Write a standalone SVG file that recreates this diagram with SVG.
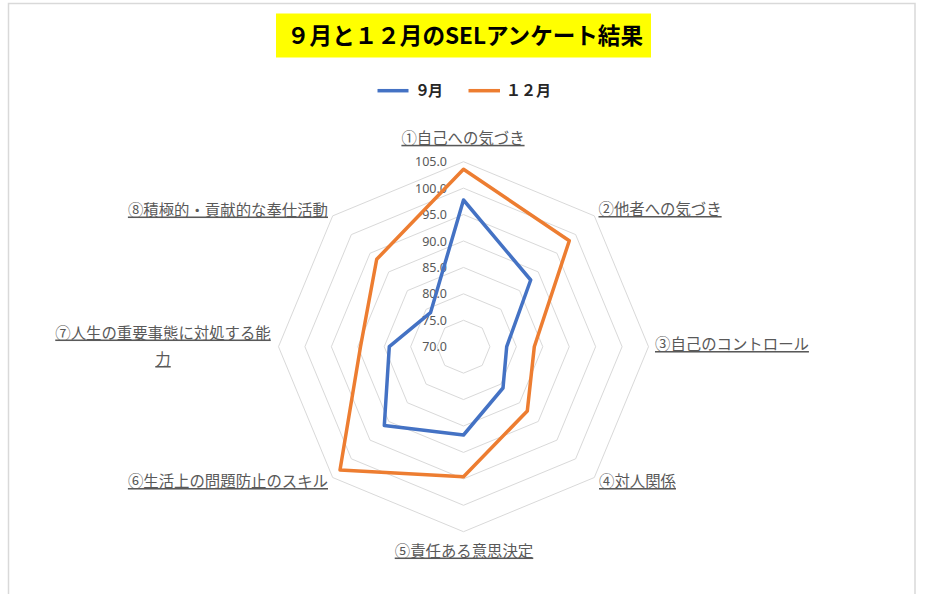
<svg xmlns="http://www.w3.org/2000/svg" width="925" height="594" viewBox="0 0 925 594">
<style>
.grid{fill:none;stroke:#D9D9D9;stroke-width:1}
.tick{font-family:"Noto Sans","Liberation Sans",sans-serif;font-size:12.5px;fill:#595959;text-anchor:end}
.cat{font-family:"Noto Sans CJK JP","Noto Sans",sans-serif;font-size:15.4px;fill:#595959;text-decoration:underline}
.ser{fill:none;stroke-width:3.5;stroke-linejoin:round;stroke-linecap:round}
.leg{font-family:"Noto Sans CJK JP","Noto Sans",sans-serif;font-size:15px;font-weight:bold;fill:#262626}
</style>
<rect x="0" y="0" width="925" height="594" fill="#FFFFFF"/>
<rect x="8.5" y="3.5" width="906.5" height="620" fill="#FFFFFF" stroke="#D9D9D9" stroke-width="1.5"/>
<g id="title">
<rect x="276" y="13.5" width="375" height="44" fill="#FFFF00"/>
<text x="465" y="43.5" text-anchor="middle" font-family="Noto Sans CJK JP,Noto Sans,sans-serif" font-size="23" font-weight="bold" fill="#000000" textLength="356" lengthAdjust="spacingAndGlyphs">９月と１２月のSELアンケート結果</text>
</g>
<g id="legend">
<line x1="377.5" y1="90.7" x2="408.5" y2="90.7" stroke="#4472C4" stroke-width="3.5"/>
<text class="leg" x="415" y="96" textLength="28">９月</text>
<line x1="468.5" y1="90.7" x2="500" y2="90.7" stroke="#ED7D31" stroke-width="3.5"/>
<text class="leg" x="506" y="96" textLength="45">１２月</text>
</g>
<g id="gridrings">
<polygon class="grid" points="463.5,320.27 482.19,328.01 489.93,346.7 482.19,365.39 463.5,373.13 444.81,365.39 437.07,346.7 444.81,328.01"/>
<polygon class="grid" points="463.5,293.84 500.88,309.32 516.36,346.7 500.88,384.08 463.5,399.56 426.12,384.08 410.64,346.7 426.12,309.32"/>
<polygon class="grid" points="463.5,267.41 519.57,290.63 542.79,346.7 519.57,402.77 463.5,425.99 407.43,402.77 384.21,346.7 407.43,290.63"/>
<polygon class="grid" points="463.5,240.98 538.26,271.94 569.22,346.7 538.26,421.46 463.5,452.42 388.74,421.46 357.78,346.7 388.74,271.94"/>
<polygon class="grid" points="463.5,214.55 556.94,253.26 595.65,346.7 556.94,440.14 463.5,478.85 370.06,440.14 331.35,346.7 370.06,253.26"/>
<polygon class="grid" points="463.5,188.12 575.63,234.57 622.08,346.7 575.63,458.83 463.5,505.28 351.37,458.83 304.92,346.7 351.37,234.57"/>
<polygon class="grid" points="463.5,161.69 594.32,215.88 648.51,346.7 594.32,477.52 463.5,531.71 332.68,477.52 278.49,346.7 332.68,215.88"/>
</g>
<g id="ticks">
<text class="tick" x="447" y="351.2">70.0</text>
<text class="tick" x="447" y="324.8">75.0</text>
<text class="tick" x="447" y="298.3">80.0</text>
<text class="tick" x="447" y="271.9">85.0</text>
<text class="tick" x="447" y="245.5">90.0</text>
<text class="tick" x="447" y="219.1">95.0</text>
<text class="tick" x="447" y="192.6">100.0</text>
<text class="tick" x="447" y="166.2">105.0</text>
</g>
<g id="series">
<polygon id="s-dec" class="ser" stroke="#ED7D31" points="463.5,169.3 569.3,240.7 534.3,346.7 527.3,411 463.5,476.7 340,470 360.5,346.7 376.7,259.3"/>
<polygon id="s-sep" class="ser" stroke="#4472C4" points="463.5,200 530.7,280 506.7,346.7 503,388 463.5,435 384.3,425.5 389.3,346.7 430.5,312.7"/>
</g>
<g id="labels">
<text id="c1" class="cat" x="463" y="143.8" text-anchor="middle">①自己への気づき</text>
<text id="c2" class="cat" x="598.5" y="215">②他者への気づき</text>
<text id="c3" class="cat" x="655" y="350">③自己のコントロール</text>
<text id="c4" class="cat" x="599" y="487">④対人関係</text>
<text id="c5" class="cat" x="464" y="556.5" text-anchor="middle">⑤責任ある意思決定</text>
<text id="c6" class="cat" x="328" y="487" text-anchor="end">⑥生活上の問題防止のスキル</text>
<text id="c7" class="cat" x="163" y="338.5" text-anchor="middle">⑦人生の重要事態に対処する能</text>
<text id="c7b" class="cat" x="163" y="365" text-anchor="middle">力</text>
<text id="c8" class="cat" x="328" y="215.5" text-anchor="end">⑧積極的・貢献的な奉仕活動</text>
</g>
</svg>
